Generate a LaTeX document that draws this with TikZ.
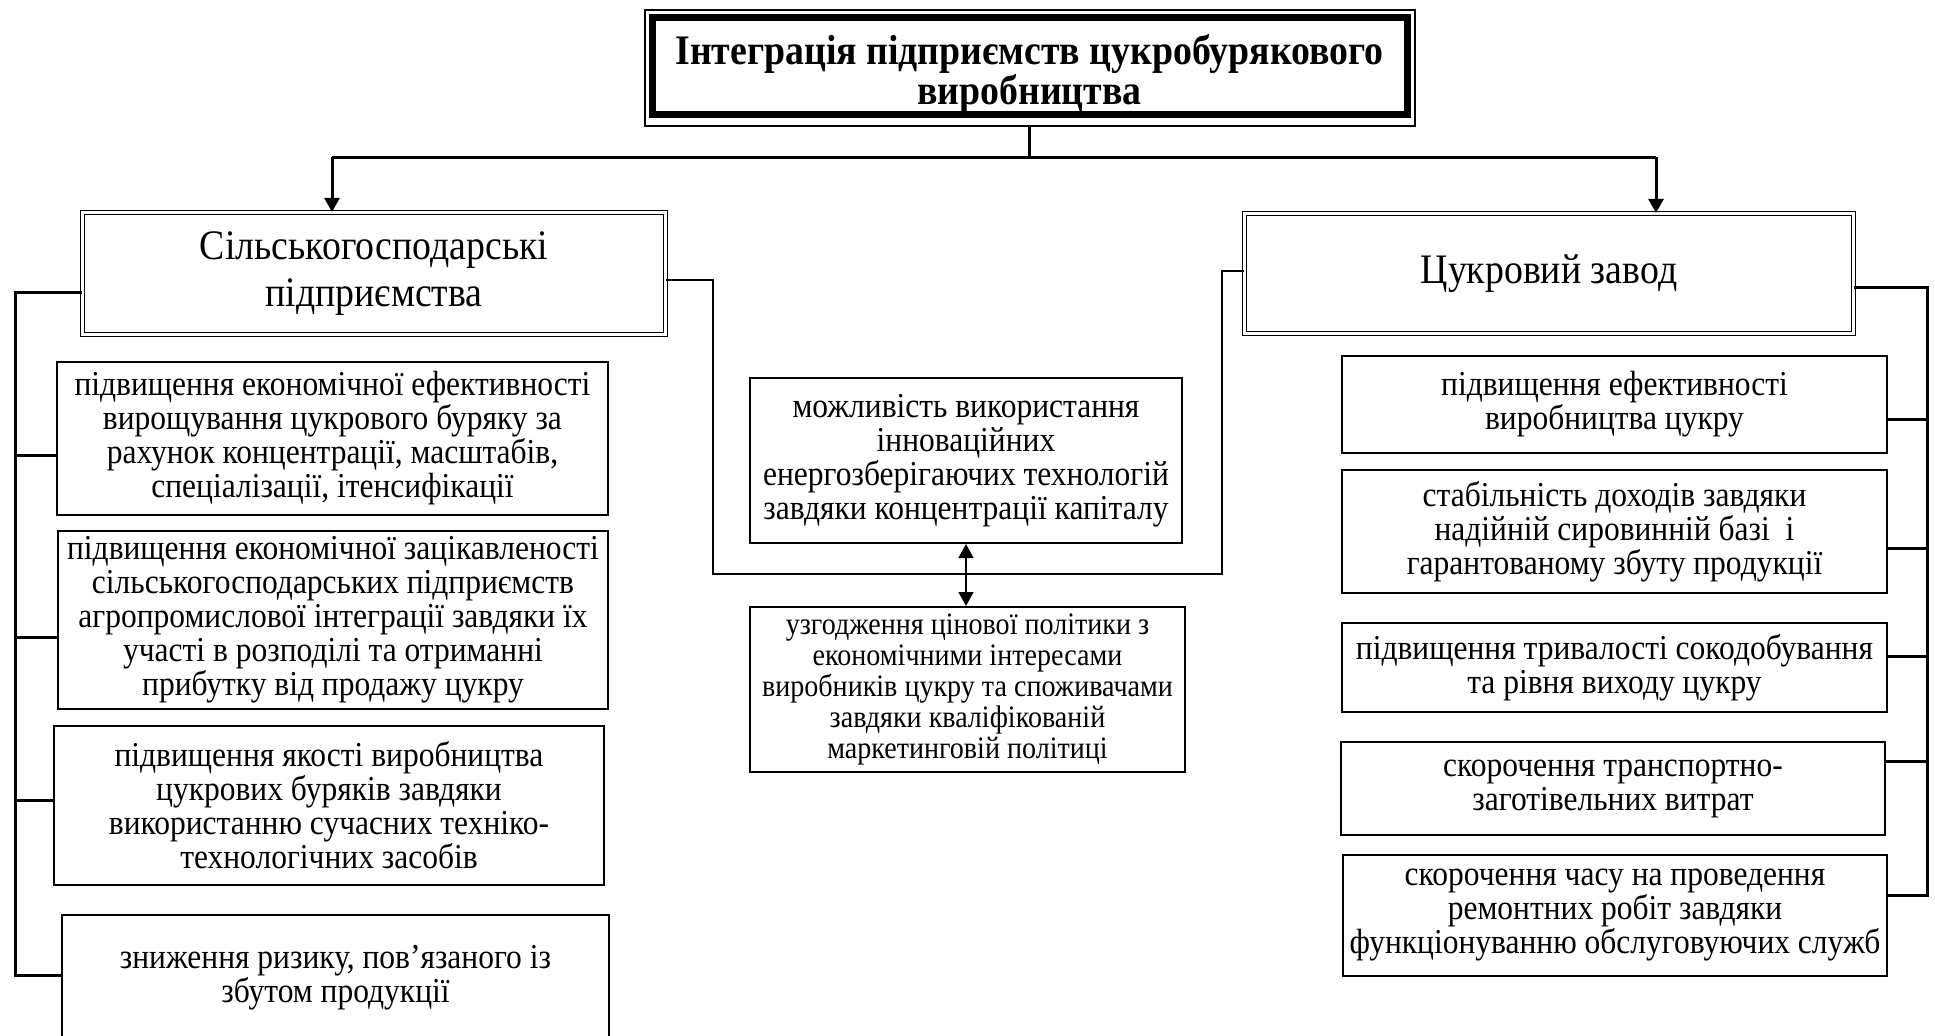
\documentclass[tikz,border=0pt]{standalone}
\usepackage{fontspec}
\setmainfont[FakeStretch=0.9]{Liberation Serif}
\usetikzlibrary{arrows.meta,calc}
\begin{document}
\begin{tikzpicture}[x=0.5pt,y=-0.5pt,
  box/.style={draw, line width=1pt, align=center, inner sep=0pt, font=\fontsize{17.5}{17}\selectfont},
  midbox/.style={box, font=\fontsize{15.6}{15.5}\selectfont},
  mainbox/.style={draw, line width=0.6pt, double, double distance=1.2pt, align=center, inner sep=0pt, font=\fontsize{21}{23.5}\selectfont},
  titlebox/.style={draw, line width=3.5pt, inner sep=0pt},
  titletext/.style={align=center, inner sep=0pt, font=\fontsize{21}{20}\selectfont\bfseries},
  busline/.style={line width=1.5pt},
  thinline/.style={line width=0.6pt},
  arr/.style={line width=1.5pt, -{Triangle[length=7pt,width=7.5pt]}},
  darr/.style={line width=0.8pt, {Triangle[length=7pt,width=7.5pt]}-{Triangle[length=7pt,width=7.5pt]}}
]
\useasboundingbox (0,0) rectangle (1935,1035);
\clip (0,0) rectangle (1935,1035);

% title
\node[titlebox, minimum width=377.5pt, minimum height=48.5pt] (t) at (1029.5,65.5) {};
\node[titletext] (tt) at ([yshift=-4pt]t.center)
  {Інтеграція підприємств цукробурякового\\виробництва};
\draw[thinline] ([xshift=-1.75pt,yshift=1.75pt]t.north west) rectangle ([xshift=2.25pt,yshift=-4.25pt]t.south east);

% main boxes
\node[mainbox, minimum width=291.5pt, minimum height=61pt] (lm) at (374,273.5)
  {Сільськогосподарські\\підприємства};
\node[mainbox, minimum width=304.5pt, minimum height=60pt] (rm) at (1549,273.5)
  {Цукровий завод};

% left boxes
\node[box, minimum width=275.5pt, minimum height=76.5pt] (L1) at (332.5,438.5)
  {підвищення економічної ефективності\\вирощування цукрового буряку за\\рахунок концентрації, масштабів,\\спеціалізації, ітенсифікації};
\node[box, minimum width=275pt, minimum height=89pt] (L2) at (333,620)
  {підвищення економічної зацікавленості\\сільськогосподарських підприємств\\агропромислової інтеграції завдяки їх\\участі в розподілі та отриманні\\прибутку від продажу цукру};
\node[box, minimum width=275pt, minimum height=79.5pt] (L3) at (329,805.5)
  {підвищення якості виробництва\\цукрових буряків завдяки\\використанню сучасних техніко-\\технологічних засобів};
\node[box, minimum width=273.5pt, minimum height=62.5pt] (L4) at (335.5,977.5)
  {зниження ризику, пов’язаного із\\збутом продукції};

% middle boxes
\node[box, minimum width=216pt, minimum height=82.5pt] (M1) at (966,460.5)
  {можливість використання\\інноваційних\\енергозберігаючих технологій\\завдяки концентрації капіталу};
\node[midbox, minimum width=217.5pt, minimum height=82.5pt] (M2) at (967.5,689.5)
  {узгодження цінової політики з\\економічними інтересами\\виробників цукру та споживачами\\завдяки кваліфікованій\\маркетинговій політиці};

% right boxes
\node[box, minimum width=272.5pt, minimum height=48.5pt] (R1) at (1614.5,404.5)
  {підвищення ефективності\\виробництва цукру};
\node[box, minimum width=272.5pt, minimum height=61.5pt] (R2) at (1614.5,531.5)
  {стабільність доходів завдяки\\надійній сировинній базі~ і\\гарантованому збуту продукції};
\node[box, minimum width=272.5pt, minimum height=44.5pt] (R3) at (1614.5,667.5)
  {підвищення тривалості сокодобування\\та рівня виходу цукру};
\node[box, minimum width=272pt, minimum height=46.5pt] (R4) at (1613,788.5)
  {скорочення транспортно-\\заготівельних витрат};
\node[box, minimum width=272pt, minimum height=60.5pt] (R5) at (1615,915.5)
  {скорочення часу на проведення\\ремонтних робіт завдяки\\функціонуванню обслуговуючих служб};

% top connectors
\coordinate (bus) at (1023,157);
\coordinate (la) at (332,157);
\coordinate (ra) at (1656,157);
\draw[busline] (t.south |- 0,126) -- (t.south |- bus);
\draw[busline] (la) -- (ra);
\draw[arr] (la) -- (la |- lm.north);
\draw[arr] (ra) -- (ra |- rm.north);

% left bus
\coordinate (lbt) at (15,292);
\coordinate (lbb) at (15,975);
\draw[busline] (lm.west |- lbt) -- (lbt) -- (lbb) -- (L4.west |- lbb);
\coordinate (lb1) at (15,455);
\coordinate (lb2) at (15,637);
\coordinate (lb3) at (15,800);
\draw[busline] (lb1) -- (L1.west |- lb1);
\draw[busline] (lb2) -- (L2.west |- lb2);
\draw[busline] (lb3) -- (L3.west |- lb3);

% right bus
\coordinate (rbt) at (1927,287);
\coordinate (rbb) at (1927,895);
\draw[busline] (rm.east |- rbt) -- (rbt) -- (rbb) -- (R5.east |- rbb);
\coordinate (rb1) at (1927,419);
\coordinate (rb2) at (1927,548);
\coordinate (rb3) at (1927,656);
\coordinate (rb4) at (1927,761);
\draw[busline] (rb1) -- (R1.east |- rb1);
\draw[busline] (rb2) -- (R2.east |- rb2);
\draw[busline] (rb3) -- (R3.east |- rb3);
\draw[busline] (rb4) -- (R4.east |- rb4);

% middle connector
\coordinate (ca) at (713,280);
\coordinate (cb) at (713,574);
\coordinate (cc) at (1222,574);
\coordinate (cd) at (1222,271);
\draw[thinline] (lm.east |- ca) -- (ca) -- (cb) -- (cc) -- (cd) -- (rm.west |- cd);
\draw[darr] (M1.south) -- (M1.south |- M2.north);
\end{tikzpicture}
\end{document}
